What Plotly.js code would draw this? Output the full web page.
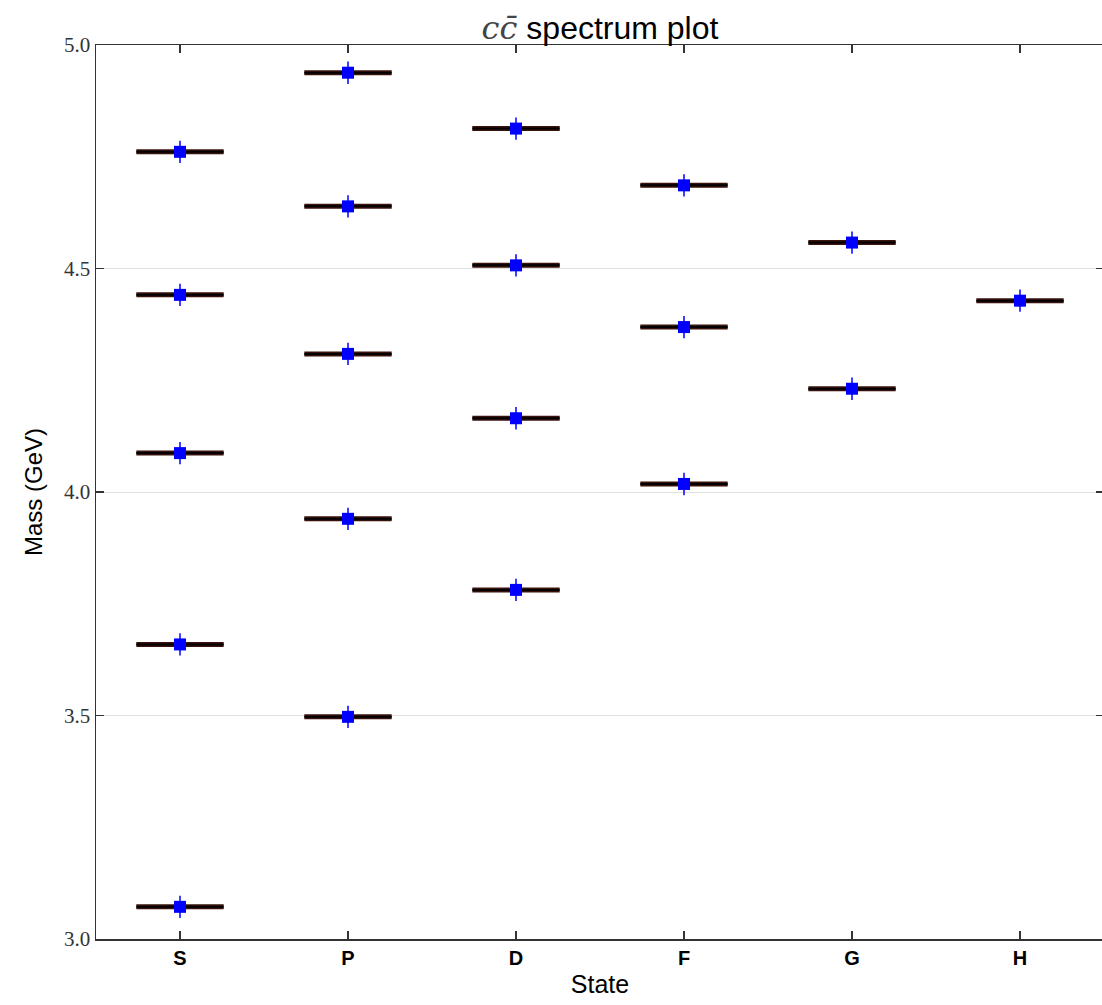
<!DOCTYPE html>
<html>
<head>
<meta charset="utf-8">
<script src="https://cdn.plot.ly/plotly-3.0.1.min.js"></script>
<style>
  html, body { margin: 0; padding: 0; background: #fff; overflow: hidden; }
  #chart { width: 1104px; height: 1005px; }
</style>
</head>
<body>
<div id="chart"></div>
<script>
// Charmonium (c c-bar) level masses in GeV, grouped by orbital state
const states = ['S', 'P', 'D', 'F', 'G', 'H'];
const massS = [3.072, 3.659, 4.087, 4.441, 4.761];
const massP = [3.497, 3.940, 4.309, 4.639, 4.938];
const massD = [3.781, 4.165, 4.507, 4.813];
const massF = [4.018, 4.369, 4.686];
const massG = [4.231, 4.558];
const massH = [4.428];
const massError = 0.025;

const levels = [massS, massP, massD, massF, massG, massH];
const halfWidth = 0.26;

// Level lines: one short horizontal segment per mass, centred on its state
const lineX = [], lineY = [];
const ptX = [], ptY = [];
levels.forEach((masses, i) => {
  masses.forEach(m => {
    lineX.push(i - halfWidth, i + halfWidth, null);
    lineY.push(m, m, null);
    ptX.push(i);
    ptY.push(m);
  });
});

const traces = [
  {
    x: lineX, y: lineY, type: 'scatter', mode: 'lines',
    line: { color: '#3a120c', width: 5 }, hoverinfo: 'skip', showlegend: false
  },
  {
    x: lineX, y: lineY, type: 'scatter', mode: 'lines',
    line: { color: '#000000', width: 2 }, hoverinfo: 'skip', showlegend: false
  },
  {
    x: ptX, y: ptY, type: 'scatter', mode: 'markers',
    marker: { symbol: 'square', size: 12, color: '#0000ff', line: { width: 0 } },
    error_y: { type: 'constant', value: massError, color: '#0000ff', thickness: 1.5, width: 0 },
    showlegend: false
  }
];

const axisLine = '#333333';
const layout = {
  width: 1104,
  height: 1005,
  margin: { l: 96, r: 0, t: 45, b: 66 },
  paper_bgcolor: '#ffffff',
  plot_bgcolor: '#ffffff',
  showlegend: false,
  title: {
    text: '<span style="font-family:\'DejaVu Serif\', serif;font-style:italic;color:#444">cc\u0304</span> spectrum plot',
    font: { family: 'Liberation Sans, Arial, sans-serif', size: 32, color: '#000' },
    xref: 'paper', x: 0.5, xanchor: 'center', y: 0.972, yanchor: 'middle'
  },
  xaxis: {
    range: [-0.5, 5.5],
    tickmode: 'array',
    tickvals: states.map((_, i) => i),
    ticktext: states,
    tickfont: { family: 'Liberation Sans, Arial, sans-serif', size: 20, color: '#000', weight: 'bold' },
    ticks: 'inside', ticklen: 8, tickwidth: 1.5, tickcolor: axisLine,
    showline: true, linecolor: axisLine, linewidth: 1.5, mirror: 'ticks',
    showgrid: false, zeroline: false,
    title: { text: 'State', font: { family: 'Liberation Sans, Arial, sans-serif', size: 25, color: '#000' }, standoff: 8 }
  },
  yaxis: {
    range: [3.0, 5.0],
    tickmode: 'array',
    tickvals: [3.0, 3.5, 4.0, 4.5, 5.0],
    ticktext: ['3.0', '3.5', '4.0', '4.5', '5.0'],
    tickfont: { family: 'Liberation Serif, serif', size: 21, color: '#333' },
    ticks: 'inside', ticklen: 8, tickwidth: 1.5, tickcolor: axisLine,
    showline: true, linecolor: axisLine, linewidth: 1.5, mirror: 'ticks',
    showgrid: true, gridcolor: '#e0e0e0', gridwidth: 1, zeroline: false,
    title: { text: 'Mass (GeV)', font: { family: 'Liberation Sans, Arial, sans-serif', size: 24, color: '#000' }, standoff: 14 }
  }
};

Plotly.newPlot('chart', traces, layout, { displayModeBar: false, staticPlot: true });
</script>
</body>
</html>
